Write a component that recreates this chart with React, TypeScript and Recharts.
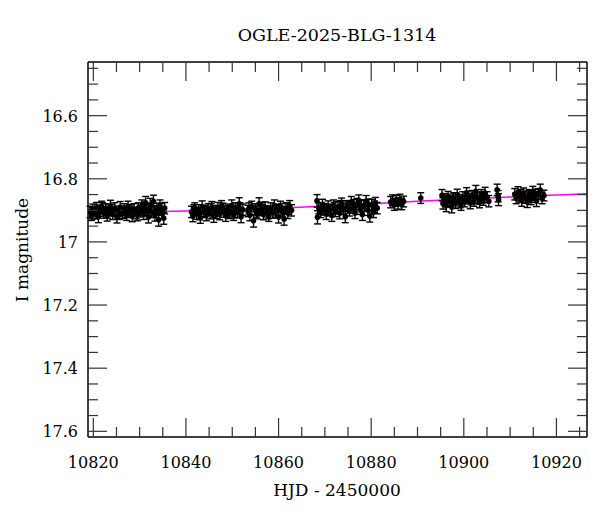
import { ComposedChart, Line, Scatter, ErrorBar, XAxis, YAxis } from "recharts"

// OGLE photometry: [HJD - 2450000, I mag, error], one array per observing block
const block1 = [
  [10819.3, 16.905, 0.018], [10819.6, 16.915, 0.017], [10819.9, 16.898, 0.018], [10820.4, 16.91, 0.017],
  [10820.7, 16.893, 0.018], [10821.1, 16.92, 0.019], [10821.5, 16.902, 0.017], [10821.8, 16.889, 0.018],
  [10822.3, 16.908, 0.017], [10822.6, 16.897, 0.018], [10823.0, 16.916, 0.018], [10823.4, 16.9, 0.017],
  [10823.7, 16.886, 0.018], [10824.2, 16.912, 0.017], [10824.6, 16.894, 0.018], [10825.1, 16.921, 0.019],
  [10825.4, 16.903, 0.017], [10825.8, 16.89, 0.018], [10826.3, 16.909, 0.017], [10826.7, 16.897, 0.018],
  [10827.2, 16.914, 0.018], [10827.5, 16.888, 0.017], [10828.0, 16.905, 0.018], [10828.4, 16.918, 0.018],
  [10828.8, 16.896, 0.017], [10829.3, 16.909, 0.018], [10829.7, 16.893, 0.017], [10830.2, 16.903, 0.018],
  [10830.5, 16.885, 0.018], [10830.9, 16.912, 0.017], [10831.3, 16.876, 0.02], [10831.6, 16.898, 0.018],
  [10831.9, 16.921, 0.019], [10832.3, 16.882, 0.02], [10832.6, 16.905, 0.018], [10833.0, 16.872, 0.02],
  [10833.3, 16.915, 0.019], [10833.7, 16.895, 0.018], [10834.1, 16.93, 0.02], [10834.4, 16.886, 0.019],
  [10834.8, 16.908, 0.018], [10835.2, 16.925, 0.019], [10835.4, 16.893, 0.018],
  [10819.8, 16.909, 0.018], [10820.9, 16.901, 0.018], [10822.0, 16.894, 0.018], [10823.1, 16.907, 0.018],
  [10824.0, 16.899, 0.018], [10825.6, 16.911, 0.018], [10826.9, 16.904, 0.018], [10828.2, 16.899, 0.018],
  [10829.5, 16.915, 0.018], [10831.0, 16.892, 0.018], [10832.0, 16.899, 0.018], [10833.5, 16.904, 0.019],
  [10834.6, 16.897, 0.019],
]

const block2 = [
  [10841.2, 16.905, 0.018], [10841.5, 16.918, 0.018], [10841.9, 16.893, 0.017], [10842.3, 16.91, 0.018],
  [10842.7, 16.899, 0.017], [10843.1, 16.922, 0.019], [10843.5, 16.888, 0.018], [10843.9, 16.906, 0.017],
  [10844.4, 16.915, 0.018], [10844.8, 16.896, 0.017], [10845.2, 16.909, 0.018], [10845.6, 16.89, 0.018],
  [10846.0, 16.919, 0.019], [10846.5, 16.901, 0.017], [10846.9, 16.893, 0.018], [10847.3, 16.912, 0.018],
  [10847.7, 16.886, 0.017], [10848.2, 16.904, 0.018], [10848.6, 16.917, 0.018], [10849.0, 16.897, 0.017],
  [10849.4, 16.908, 0.018], [10849.9, 16.885, 0.018], [10850.3, 16.914, 0.018], [10850.7, 16.893, 0.017],
  [10851.1, 16.905, 0.018], [10851.5, 16.879, 0.019], [10851.9, 16.92, 0.019], [10852.3, 16.898, 0.018],
  [10841.7, 16.9, 0.018], [10842.9, 16.912, 0.018], [10844.1, 16.902, 0.018], [10845.4, 16.896, 0.018],
  [10846.7, 16.908, 0.018], [10848.0, 16.895, 0.018], [10849.2, 16.903, 0.018], [10850.5, 16.906, 0.018],
  [10851.7, 16.894, 0.018],
]

const block3 = [
  [10853.4, 16.902, 0.018], [10853.8, 16.915, 0.018], [10854.2, 16.888, 0.017], [10854.6, 16.933, 0.02],
  [10855.0, 16.897, 0.018], [10855.4, 16.91, 0.017], [10855.8, 16.879, 0.019], [10856.2, 16.899, 0.018],
  [10856.7, 16.912, 0.018], [10857.1, 16.89, 0.017], [10857.5, 16.903, 0.018], [10857.9, 16.917, 0.018],
  [10858.3, 16.893, 0.017], [10858.7, 16.907, 0.018], [10859.1, 16.885, 0.018], [10859.6, 16.898, 0.017],
  [10860.0, 16.921, 0.019], [10860.4, 16.889, 0.018], [10860.8, 16.904, 0.017], [10861.2, 16.927, 0.02],
  [10861.6, 16.894, 0.018], [10862.0, 16.908, 0.018], [10862.4, 16.886, 0.017], [10862.8, 16.9, 0.018],
  [10853.6, 16.894, 0.018], [10855.2, 16.904, 0.018], [10856.5, 16.893, 0.018], [10857.7, 16.909, 0.018],
  [10859.4, 16.903, 0.018], [10860.6, 16.897, 0.018], [10861.9, 16.895, 0.018],
]

const block4 = [
  [10868.3, 16.87, 0.02], [10868.4, 16.922, 0.021], [10868.7, 16.893, 0.018], [10869.1, 16.905, 0.018],
  [10869.5, 16.882, 0.017], [10869.9, 16.897, 0.018], [10870.3, 16.911, 0.018], [10870.7, 16.887, 0.017],
  [10871.1, 16.899, 0.018], [10871.5, 16.916, 0.019], [10871.9, 16.884, 0.017], [10872.3, 16.902, 0.018],
  [10872.8, 16.89, 0.018], [10873.2, 16.909, 0.018], [10873.6, 16.878, 0.017], [10874.0, 16.895, 0.018],
  [10874.4, 16.92, 0.019], [10874.8, 16.886, 0.017], [10875.3, 16.9, 0.018], [10875.7, 16.874, 0.018],
  [10876.1, 16.892, 0.017], [10876.5, 16.908, 0.018], [10876.9, 16.88, 0.018], [10877.3, 16.869, 0.018],
  [10877.7, 16.896, 0.017], [10878.1, 16.913, 0.019], [10878.5, 16.884, 0.018], [10878.9, 16.871, 0.018],
  [10879.3, 16.899, 0.017], [10879.7, 16.918, 0.019], [10880.1, 16.883, 0.018], [10880.5, 16.905, 0.018],
  [10880.9, 16.876, 0.017], [10881.3, 16.893, 0.018],
  [10869.3, 16.894, 0.018], [10870.5, 16.899, 0.018], [10872.0, 16.893, 0.018], [10873.4, 16.887, 0.018],
  [10875.0, 16.891, 0.018], [10876.3, 16.884, 0.018], [10877.9, 16.887, 0.018], [10879.5, 16.882, 0.018],
  [10880.7, 16.889, 0.018],
]

const block5 = [
  [10884.2, 16.874, 0.018], [10884.6, 16.868, 0.017], [10885.0, 16.882, 0.018], [10885.4, 16.87, 0.017],
  [10885.8, 16.878, 0.018], [10886.2, 16.866, 0.017], [10886.6, 16.88, 0.018], [10887.0, 16.872, 0.017],
  [10890.7, 16.861, 0.017],
]

const block6 = [
  [10895.3, 16.852, 0.018], [10895.5, 16.878, 0.018], [10895.8, 16.864, 0.017], [10896.2, 16.885, 0.019],
  [10896.6, 16.857, 0.017], [10897.0, 16.872, 0.018], [10897.4, 16.889, 0.019], [10897.8, 16.861, 0.017],
  [10898.2, 16.876, 0.018], [10898.6, 16.85, 0.017], [10899.0, 16.868, 0.018], [10899.4, 16.882, 0.018],
  [10899.8, 16.858, 0.017], [10900.2, 16.871, 0.018], [10900.6, 16.846, 0.018], [10901.0, 16.863, 0.017],
  [10901.4, 16.877, 0.018], [10901.8, 16.854, 0.017], [10902.2, 16.869, 0.018], [10902.6, 16.84, 0.019],
  [10903.0, 16.86, 0.017], [10903.4, 16.874, 0.018], [10903.8, 16.851, 0.017], [10904.2, 16.866, 0.018],
  [10904.6, 16.845, 0.018], [10905.0, 16.858, 0.017], [10905.4, 16.871, 0.018],
  [10896.0, 16.87, 0.018], [10897.6, 16.866, 0.018], [10899.2, 16.874, 0.018], [10900.9, 16.857, 0.018],
  [10902.4, 16.862, 0.018], [10904.0, 16.859, 0.018],
  [10907.2, 16.835, 0.018], [10907.4, 16.855, 0.018], [10907.5, 16.866, 0.019],
]

const block7 = [
  [10911.0, 16.849, 0.018], [10911.3, 16.862, 0.017], [10911.7, 16.843, 0.018], [10912.1, 16.857, 0.017],
  [10912.5, 16.869, 0.018], [10912.9, 16.846, 0.017], [10913.3, 16.86, 0.018], [10913.7, 16.873, 0.018],
  [10914.1, 16.851, 0.017], [10914.5, 16.864, 0.018], [10914.9, 16.842, 0.018], [10915.3, 16.858, 0.017],
  [10915.7, 16.87, 0.018], [10916.1, 16.848, 0.017], [10916.5, 16.836, 0.019], [10916.9, 16.861, 0.018],
  [10917.3, 16.853, 0.017], [10912.3, 16.852, 0.018], [10913.9, 16.856, 0.018], [10915.5, 16.851, 0.018],
]

// model light curve (magenta)
const modelHjd = [10818.85, 10830, 10840, 10850, 10860, 10870, 10880, 10890, 10900, 10910, 10920, 10926.6]
const modelMag = [16.907, 16.905, 16.902, 16.898, 16.893, 16.886, 16.879, 16.871, 16.864, 16.858, 16.851, 16.847]

const xMajorTicks = [10820, 10840, 10860, 10880, 10900, 10920]
const xMinorTicks = [10825, 10830, 10835, 10845, 10850, 10855, 10865, 10870, 10875, 10885, 10890, 10895, 10905, 10910, 10915, 10925]
const yMajorTicks = [16.6, 16.8, 17, 17.2, 17.4, 17.6]
const yMinorTicks = [16.45, 16.5, 16.55, 16.65, 16.7, 16.75, 16.85, 16.9, 16.95, 17.05, 17.1, 17.15, 17.25, 17.3, 17.35, 17.45, 17.5, 17.55]

const X_DOMAIN = [10818.85, 10926.6]
const Y_DOMAIN = [16.43, 17.618]

const FONT = "'DejaVu Serif', serif"
const TICK_COLOR = "#333"

const observations = [...block1, ...block2, ...block3, ...block4, ...block5, ...block6, ...block7].map(([t, m, e]) => ({ t, m, e }))
const model = modelHjd.map((t, i) => ({ t, m: modelMag[i] }))
const xTicks = [...xMajorTicks, ...xMinorTicks].sort((a, b) => a - b)
const yTicks = [...yMajorTicks, ...yMinorTicks].sort((a, b) => a - b)

// tick drawn inward from the frame, label only on major ticks
const FrameTick = ({ x, y, payload, side }: any) => {
  const v = payload.value
  const major = side === "bottom" || side === "top" ? xMajorTicks.includes(v) : yMajorTicks.includes(v)
  const len = major ? 19 : 10
  let line
  let label = null
  if (side === "bottom") {
    line = <line x1={x} y1={y} x2={x} y2={y - len} />
    if (major) label = <text x={x} y={y + 31} textAnchor="middle">{v}</text>
  } else if (side === "top") {
    line = <line x1={x} y1={y} x2={x} y2={y + len} />
  } else if (side === "left") {
    line = <line x1={x} y1={y} x2={x + len} y2={y} />
    if (major) label = <text x={x - 10} y={y + 6} textAnchor="end">{v}</text>
  } else {
    line = <line x1={x} y1={y} x2={x - len} y2={y} />
  }
  return (
    <g>
      <g stroke={TICK_COLOR} strokeWidth={1.2}>{line}</g>
      {label && <g fill="#000" fontSize={16} fontFamily={FONT}>{label}</g>}
    </g>
  )
}

const Dot = (props: any) => <circle cx={props.cx} cy={props.cy} r={2.8} fill="#000" />

export default function App() {
  const axisLine = { stroke: "#000", strokeWidth: 1.5 }
  return (
    <div style={{ position: "absolute", left: 0, top: 0, width: 600, height: 512, background: "#fff", fontFamily: FONT, color: "#000" }}>
      <ComposedChart width={600} height={512} margin={{ top: 61, right: 12, bottom: 15, left: 8 }}>
        <XAxis
          xAxisId="bottom"
          dataKey="t"
          type="number"
          domain={X_DOMAIN}
          allowDataOverflow
          ticks={xTicks}
          interval={0}
          tickSize={0}
          tickMargin={0}
          height={60}
          axisLine={axisLine}
          tickLine={false}
          tick={<FrameTick side="bottom" />}
        />
        <XAxis
          xAxisId="top"
          orientation="top"
          dataKey="t"
          type="number"
          domain={X_DOMAIN}
          allowDataOverflow
          ticks={xTicks}
          interval={0}
          tickSize={0}
          tickMargin={0}
          height={1}
          axisLine={axisLine}
          tickLine={false}
          tick={<FrameTick side="top" />}
        />
        <YAxis
          yAxisId="left"
          dataKey="m"
          type="number"
          reversed
          domain={Y_DOMAIN}
          allowDataOverflow
          ticks={yTicks}
          interval={0}
          tickSize={0}
          tickMargin={0}
          width={80}
          axisLine={axisLine}
          tickLine={false}
          tick={<FrameTick side="left" />}
        />
        <YAxis
          yAxisId="right"
          orientation="right"
          dataKey="m"
          type="number"
          reversed
          domain={Y_DOMAIN}
          allowDataOverflow
          ticks={yTicks}
          interval={0}
          tickSize={0}
          tickMargin={0}
          width={1}
          axisLine={axisLine}
          tickLine={false}
          tick={<FrameTick side="right" />}
        />
        <Line
          xAxisId="bottom"
          yAxisId="left"
          data={model}
          dataKey="m"
          type="monotone"
          stroke="#ff00ff"
          strokeWidth={1.5}
          dot={false}
          isAnimationActive={false}
        />
        <Scatter
          xAxisId="bottom"
          yAxisId="left"
          data={observations}
          dataKey="m"
          shape={<Dot />}
          isAnimationActive={false}
        >
          <ErrorBar dataKey="e" direction="y" width={3.5} stroke="#000" strokeWidth={1.4} />
        </Scatter>
        {/* invisible series so the top and right frame axes get rendered */}
        <Line
          xAxisId="top"
          yAxisId="right"
          data={model}
          dataKey="m"
          stroke="none"
          dot={false}
          legendType="none"
          isAnimationActive={false}
        />
      </ComposedChart>

      <div style={{ position: "absolute", left: 337, top: 35, transform: "translate(-50%, -50%)", fontSize: 17.5, whiteSpace: "nowrap" }}>
        OGLE-2025-BLG-1314
      </div>
      <div style={{ position: "absolute", left: 337, top: 490, transform: "translate(-50%, -50%)", fontSize: 17, whiteSpace: "nowrap" }}>
        HJD - 2450000
      </div>
      <div style={{ position: "absolute", left: 22, top: 250, transform: "translate(-50%, -50%) rotate(-90deg)", fontSize: 17, whiteSpace: "nowrap" }}>
        I magnitude
      </div>
    </div>
  )
}
